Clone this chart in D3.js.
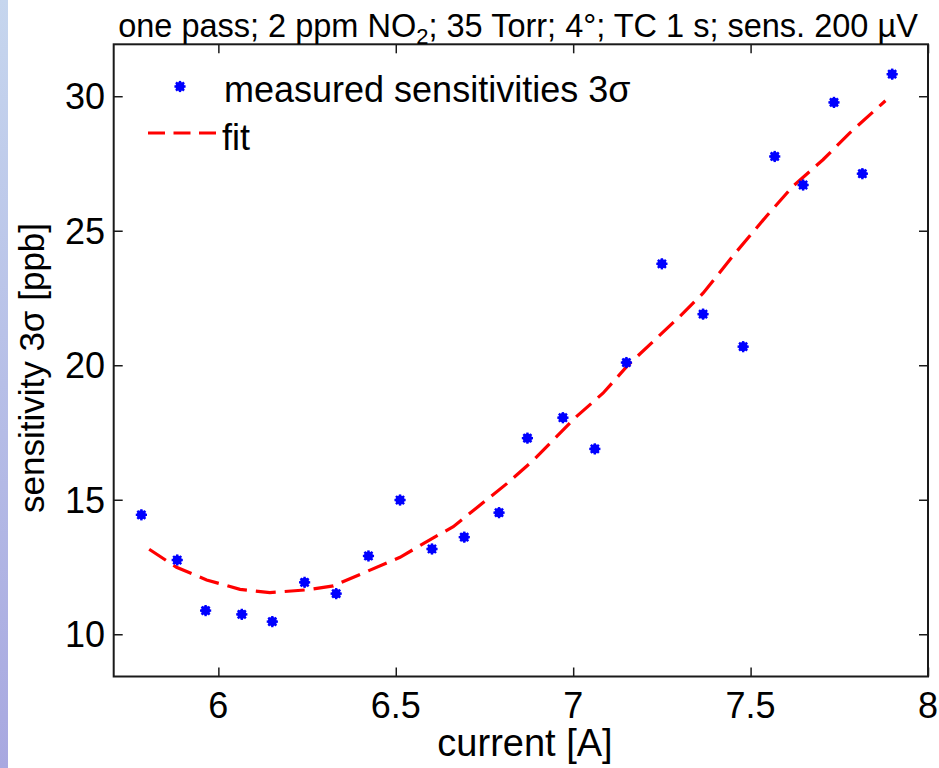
<!DOCTYPE html>
<html>
<head>
<meta charset="utf-8">
<script src="https://cdn.jsdelivr.net/npm/d3@7"></script>
<style>
  html, body { margin: 0; padding: 0; background: #fff; }
  svg { display: block; }
  text { font-family: "Liberation Sans", Arial, sans-serif; fill: #000; }
</style>
</head>
<body>
<svg id="chart" width="939" height="768"></svg>
<script>
// ---- data ----
const currentA = [5.783, 5.884, 5.964, 6.066, 6.152, 6.243, 6.332, 6.423, 6.512, 6.602, 6.693, 6.791,
                  6.871, 6.971, 7.061, 7.150, 7.250, 7.366, 7.479, 7.568, 7.648, 7.735, 7.815, 7.899];
const sensitivity = [14.44, 12.76, 10.88, 10.74, 10.47, 11.93, 11.51, 12.91, 14.99, 13.17, 13.61, 14.52,
                     17.29, 18.05, 16.89, 20.10, 23.77, 21.90, 20.69, 27.76, 26.70, 29.77, 27.12, 30.82];
const fitCurrent = [5.805, 5.882, 5.967, 6.061, 6.145, 6.249, 6.324, 6.418, 6.512, 6.596, 6.662, 6.812,
                    6.887, 7.009, 7.084, 7.155, 7.225, 7.300, 7.366, 7.455, 7.544, 7.619, 7.704, 7.779, 7.880];
const fitSens = [13.16, 12.49, 12.02, 11.67, 11.55, 11.65, 11.80, 12.33, 12.86, 13.51, 14.00, 15.59,
                 16.46, 18.09, 18.96, 20.01, 20.88, 21.81, 22.68, 24.14, 25.53, 26.65, 27.64, 28.63, 29.83];
const xTicks = [6, 6.5, 7, 7.5, 8];
const xTickLabels = ["6", "6.5", "7", "7.5", "8"];
const yTicks = [10, 15, 20, 25, 30];
const yTickLabels = ["10", "15", "20", "25", "30"];
const titleText = "one pass; 2 ppm NO|2|; 35 Torr; 4°; TC 1 s; sens. 200 µV";
const xLabel = "current [A]";
const yLabel = "sensitivity 3σ [ppb]";
const legendLabels = ["measured sensitivities 3σ", "fit"];

// ---- layout ----
const svg = d3.select("#chart");
const L = 113.7, R = 928, T = 44.3, B = 676.5;
const x = d3.scaleLinear().domain([5.705, 8]).range([L, R]);
const y = d3.scaleLinear().domain([8.43, 31.93]).range([B, T]);

// left decorative gradient strip
const defs = svg.append("defs");
const grad = defs.append("linearGradient").attr("id", "strip").attr("x1", 0).attr("y1", 0).attr("x2", 0).attr("y2", 1);
grad.append("stop").attr("offset", "0%").attr("stop-color", "#c6d6ee");
grad.append("stop").attr("offset", "100%").attr("stop-color", "#a8a8e0");
svg.append("rect").attr("x", 0).attr("y", 0).attr("width", 8).attr("height", 768).attr("fill", "url(#strip)");

// axes with inward ticks on all four sides
const tickLen = 9;
const axStyle = g => {
  g.select(".domain").remove();
  g.selectAll(".tick line").attr("stroke", "#1a1a1a").attr("stroke-width", 1.5);
  g.selectAll(".tick text").remove();
};
svg.append("g").attr("transform", `translate(0,${B})`)
  .call(d3.axisBottom(x).tickValues(xTicks).tickSize(-tickLen)).call(axStyle);
svg.append("g").attr("transform", `translate(0,${T})`)
  .call(d3.axisTop(x).tickValues(xTicks).tickSize(-tickLen)).call(axStyle);
svg.append("g").attr("transform", `translate(${L},0)`)
  .call(d3.axisLeft(y).tickValues(yTicks).tickSize(-tickLen)).call(axStyle);
svg.append("g").attr("transform", `translate(${R},0)`)
  .call(d3.axisRight(y).tickValues(yTicks).tickSize(-tickLen)).call(axStyle);

svg.append("rect").attr("x", L).attr("y", T).attr("width", R - L).attr("height", B - T)
  .attr("fill", "none").attr("stroke", "#1a1a1a").attr("stroke-width", 2);

// tick labels
svg.append("g").selectAll("text").data(xTicks).join("text")
  .attr("x", d => x(d)).attr("y", 718).attr("text-anchor", "middle")
  .style("font-size", "36px").text((d, i) => xTickLabels[i]);
svg.append("g").selectAll("text").data(yTicks).join("text")
  .attr("x", 105).attr("y", d => y(d) + 13).attr("text-anchor", "end")
  .style("font-size", "36px").text((d, i) => yTickLabels[i]);

// axis labels
svg.append("text").attr("x", 525).attr("y", 756).attr("text-anchor", "middle")
  .style("font-size", "38px").text(xLabel);
svg.append("text").attr("transform", `translate(44,${368}) rotate(-90)`).attr("text-anchor", "middle")
  .style("font-size", "35px").text(yLabel);

// title with subscript
const parts = titleText.split("|");
const title = svg.append("text").attr("x", 518).attr("y", 37).attr("text-anchor", "middle")
  .style("font-size", "32.5px");
title.append("tspan").text(parts[0]);
title.append("tspan").attr("dy", 7).style("font-size", "22px").text(parts[1]);
title.append("tspan").attr("dy", -7).text(parts[2]);

// fit line
const line = d3.line().x(d => x(d[0])).y(d => y(d[1]));
const fitData = fitCurrent.map((c, i) => [c, fitSens[i]]);
svg.append("path").datum(fitData).attr("d", line)
  .attr("fill", "none").attr("stroke", "#ff0000").attr("stroke-width", 3.2)
  .attr("stroke-dasharray", "20,9");

// asterisk markers (blob-like, as in the reference)
function star(g, cx, cy) {
  const s = 5.6;
  const gg = g.append("g").attr("transform", `translate(${cx},${cy})`)
    .attr("stroke", "#0000ff").attr("stroke-width", 2.4).attr("stroke-linecap", "butt");
  [[-s, 0, s, 0], [0, -s, 0, s], [-s * 0.72, -s * 0.72, s * 0.72, s * 0.72], [-s * 0.72, s * 0.72, s * 0.72, -s * 0.72]]
    .forEach(l => gg.append("line").attr("x1", l[0]).attr("y1", l[1]).attr("x2", l[2]).attr("y2", l[3]));
  gg.append("circle").attr("r", 4.6).attr("fill", "#0000ff").attr("stroke", "none");
}
const pts = svg.append("g");
currentA.forEach((c, i) => star(pts, x(c), y(sensitivity[i])));

// legend
star(svg, 180, 86.5);
svg.append("text").attr("x", 224).attr("y", 101.5).style("font-size", "36px").text(legendLabels[0]);
svg.append("line").attr("x1", 148).attr("x2", 217).attr("y1", 133).attr("y2", 133)
  .attr("stroke", "#ff0000").attr("stroke-width", 3.2).attr("stroke-dasharray", "17,8.5");
svg.append("text").attr("x", 222).attr("y", 150).style("font-size", "36px").text(legendLabels[1]);
</script>
</body>
</html>
